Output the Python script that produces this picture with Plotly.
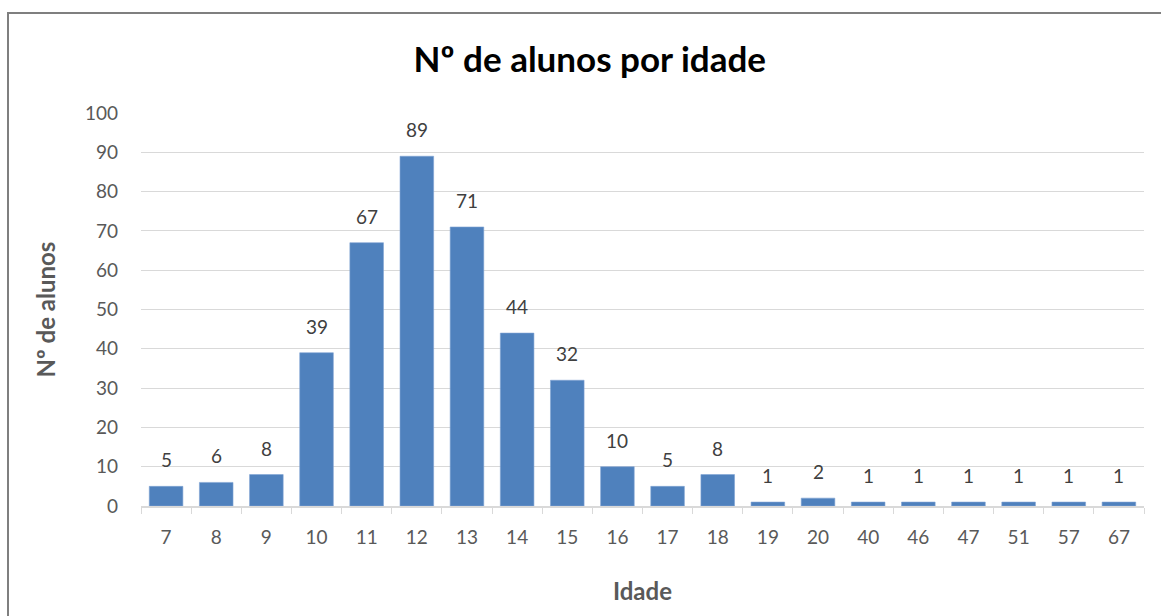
import plotly.graph_objects as go

idades = ["7", "8", "9", "10", "11", "12", "13", "14", "15", "16", "17", "18", "19", "20",
          "40", "46", "47", "51", "57", "67"]
alunos = [5, 6, 8, 39, 67, 89, 71, 44, 32, 10, 5, 8, 1, 2, 1, 1, 1, 1, 1, 1]

FONT = "Lato"
TXT = "#595959"

fig = go.Figure(
    go.Bar(
        x=idades,
        y=alunos,
        marker={"color": "#4f81bd", "line": {"color": "#7fa3d3", "width": 0.6}},
    )
)

# data labels sit a little higher above the bars, like Excel does
# (category axis: annotations are placed by category index)
for i, n in enumerate(alunos):
    fig.add_annotation(
        x=i, y=n, text=str(n), showarrow=False,
        yanchor="bottom", yshift=13,
        font={"size": 19, "color": "#404040", "family": FONT},
    )

# plot area in pixels: left 141, right 1144, top 113, bottom 506
W, H = 1161, 616
L, R, T, B = 141, 1144, 113, 506
pw, ph = R - L, B - T

fig.update_layout(
    width=W,
    height=H,
    margin={"l": L, "r": W - R, "t": T, "b": H - B, "pad": 0},
    paper_bgcolor="white",
    plot_bgcolor="white",
    bargap=0.33,
    showlegend=False,
    font={"family": FONT, "color": TXT},
    title={
        "text": "<b>Nº de alunos por idade</b>",
        "x": 0.508,
        "xanchor": "center",
        "y": 1 - 60 / H,
        "yanchor": "middle",
        "font": {"size": 35, "color": "#000000", "family": FONT},
    },
    xaxis={
        "type": "category",
        "range": [-0.5, len(idades) - 0.5],
        "tickson": "boundaries",
        "ticks": "outside",
        "ticklen": 6,
        "tickcolor": "#d9d9d9",
        "showline": True,
        "linecolor": "#d9d9d9",
        "linewidth": 1.5,
        "showgrid": False,
        "tickangle": 0,
        "ticklabelstandoff": 13,
        "tickfont": {"size": 19, "color": TXT},
        "title": {"text": "<b>Idade</b>", "font": {"size": 24, "color": TXT}, "standoff": 37},
    },
    yaxis={
        "range": [0, 100],
        "dtick": 10,
        "showgrid": True,
        "gridcolor": "#d9d9d9",
        "gridwidth": 1,
        "zeroline": False,
        "ticks": "",
        "ticklabelstandoff": 22,
        "tickfont": {"size": 19, "color": TXT},
        "title": {"text": "<b>Nº de alunos</b>", "font": {"size": 24, "color": TXT}, "standoff": 22},
    },
)

# chart border (Excel chart area outline)
fig.add_shape(
    type="rect",
    xref="paper",
    yref="paper",
    x0=(8 - L) / pw,
    x1=(W + 20 - L) / pw,
    y0=(B - (H + 20)) / ph,
    y1=(B - 13) / ph,
    line={"color": "#7f7f7f", "width": 2},
    layer="below",
)

fig.write_html(
    "out.html",
    config={"displayModeBar": False},
    post_script="document.body.style.margin='0';",
)
